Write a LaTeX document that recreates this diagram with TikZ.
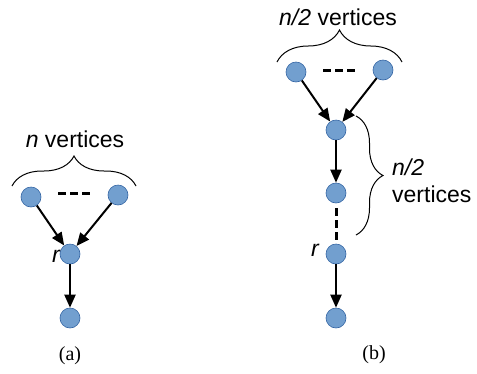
\documentclass[tikz,border=0pt]{standalone}
\usepackage{fontspec}
\setmainfont{Liberation Sans}
\newfontfamily\serifcap{Liberation Serif}
\usetikzlibrary{arrows.meta,decorations.pathreplacing}
\definecolor{nodefill}{HTML}{729FCF}
\definecolor{nodeline}{HTML}{3465A4}
\tikzset{
  vtx/.style={circle,fill=nodefill,draw=nodeline,line width=0.6pt,minimum size=20pt,inner sep=0pt},
  arr/.style={line width=2pt,-{Triangle[length=13pt,width=11pt]}},
  dashline/.style={line width=3pt,dash pattern=on 8pt off 4pt},
  bracestyle/.style={line width=1pt,decorate,decoration={brace,amplitude=#1}},
  lbl/.style={font=\fontsize{23}{26}\selectfont,inner sep=0pt},
  caplbl/.style={font=\serifcap\fontsize{20}{22}\selectfont,inner sep=0pt}
}
\begin{document}
\begin{tikzpicture}[x=1pt,y=-1pt]
\useasboundingbox (0,0) rectangle (477,373);
% panel (a)
\node[vtx] (a1) at (31,197) {};
\node[vtx] (a2) at (118,195) {};
\node[vtx] (ar) at (70,254) {};
\node[vtx] (ab) at (70,318) {};
\coordinate (ad1) at (58,193);
\coordinate (ad2) at (90,193);
\draw[dashline] (ad1) -- (ad2);
\draw[arr] (a1) -- (ar);
\draw[arr] (a2) -- (ar);
\draw[arr] (ar) -- (ab);
\node[lbl,font=\fontsize{23}{26}\selectfont\itshape] (arl) at (56,256) {r};
\coordinate (abr1) at (12,186);
\coordinate (abr2) at (136,186);
\draw[bracestyle=30pt] (abr1) -- (abr2);
\node[lbl] (atext) at (75,139) {\textit{n} vertices};
\node[caplbl] (acap) at (70,356) {(a)};
% panel (b)
\node[vtx] (b1) at (296,72) {};
\node[vtx] (b2) at (383,70) {};
\node[vtx] (bm) at (336,130) {};
\node[vtx] (bn) at (336,193) {};
\node[vtx] (br) at (336,254) {};
\node[vtx] (bb) at (336,318) {};
\coordinate (bd1) at (323,70);
\coordinate (bd2) at (355,70);
\draw[dashline] (bd1) -- (bd2);
\draw[arr] (b1) -- (bm);
\draw[arr] (b2) -- (bm);
\draw[arr] (bm) -- (bn);
\draw[arr] (br) -- (bb);
\draw[dashline] (bn.south) ++(0,5) coordinate (bv1) -- (br.north) ++(0,-4) coordinate (bv2);
\node[lbl,font=\fontsize{23}{26}\selectfont\itshape] (brl) at (315,250) {r};
\coordinate (bbr1) at (277,62);
\coordinate (bbr2) at (402,62);
\draw[bracestyle=32pt] (bbr1) -- (bbr2);
\node[lbl] (btext) at (338,17) {\textit{n}\textit{/2} vertices};
\coordinate (bvb1) at (356,116);
\coordinate (bvb2) at (356,235);
\draw[bracestyle=27pt] (bvb1) -- (bvb2);
\node[lbl,anchor=west] (bt1) at (392,167) {\textit{n/2}};
\node[lbl,anchor=west] (bt2) at (392,194) {vertices};
\node[caplbl] (bcap) at (374,355) {(b)};
\end{tikzpicture}
\end{document}
